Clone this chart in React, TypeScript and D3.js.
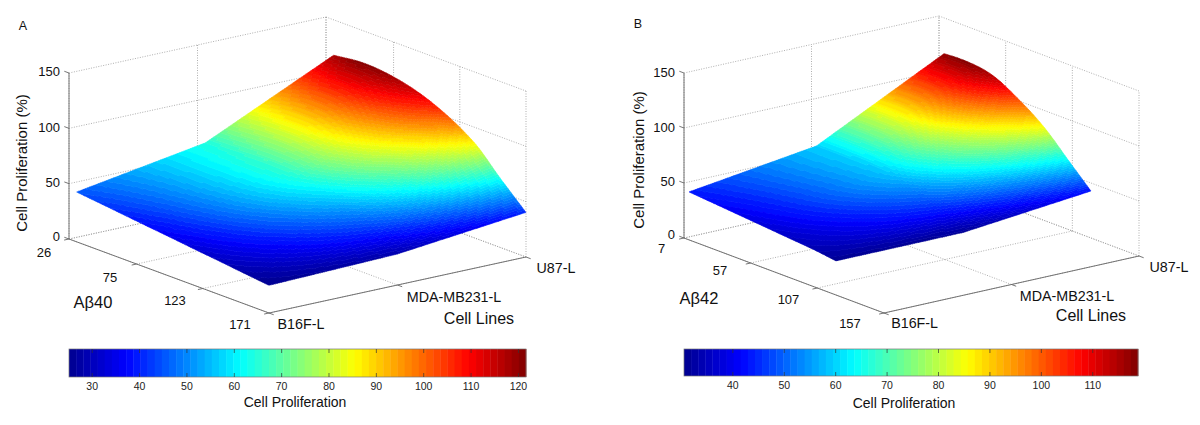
import * as d3 from "d3";

const cellLines = ["B16F-L", "MDA-MB231-L", "U87-L"];
const zTicks = [0, 50, 100, 150];

// panel A
const ab40Ticks = [26, 75, 123, 171];
const ab40Doses = [31.5, 53, 75, 104, 123, 135.5, 152, 171];
const b16fA = [45, 42, 38.8, 34.7, 31.9, 30.2, 27.7, 25];
const mdaA = [64, 65, 66, 63.5, 57, 51, 42, 28];
const u87A = [118, 121, 118.5, 107.5, 95, 84, 63, 40.3];
const barTicksA = [30, 40, 50, 60, 70, 80, 90, 100, 110, 120];
const barRangeA = [25.1, 121.6];

// panel B
const ab42Ticks = [7, 57, 107, 157];
const ab42Doses = [10.75, 23.5, 49, 66, 86.5, 105, 121];
const b16fB = [43.6, 42.3, 39.6, 37.8, 35.6, 33.6, 31];
const mdaB = [59.5, 59.5, 59, 58, 52, 43, 31];
const u87B = [117.5, 118.3, 113.5, 102, 84, 61.8, 42.7];
const barTicksB = [40, 50, 60, 70, 80, 90, 100, 110];
const barRangeB = [30.5, 118.8];

const FONT = "'Liberation Sans', Arial, sans-serif";
const LEVELS = 64;
const MESH = 120;

// matlab jet
const jet = d3
  .scaleLinear<string>()
  .domain([0, 0.125, 0.375, 0.625, 0.875, 1])
  .range(["#00008f", "#0000ff", "#00ffff", "#ffff00", "#ff0000", "#800000"]);

// smooth curve through the read values along the dose axis
function hermite(xs: number[], ys: number[], x: number) {
  let i = d3.bisectRight(xs, x) - 1;
  i = Math.max(0, Math.min(xs.length - 2, i));
  const secant = (k: number) => (ys[k + 1] - ys[k]) / (xs[k + 1] - xs[k]);
  const slope = (k: number) => {
    if (k === 0) return secant(0);
    if (k === xs.length - 1) return secant(k - 1);
    const h0 = xs[k] - xs[k - 1];
    const h1 = xs[k + 1] - xs[k];
    return (h1 * secant(k - 1) + h0 * secant(k)) / (h0 + h1);
  };
  const h = xs[i + 1] - xs[i];
  const t = (x - xs[i]) / h;
  const t2 = t * t;
  const t3 = t2 * t;
  return (
    (2 * t3 - 3 * t2 + 1) * ys[i] +
    (t3 - 2 * t2 + t) * h * slope(i) +
    (-2 * t3 + 3 * t2) * ys[i + 1] +
    (t3 - t2) * h * slope(i + 1)
  );
}

function Panel(props: any) {
  const { id, letter, letterAt, abTicks, doses, rows, barTicks, barRange, abName } = props;
  const { left, front, right, zPx, bar, text } = props.layout;

  const uScale = d3.scaleLinear().domain([abTicks[0], abTicks[3]]).range([0, 1]);
  const vScale = d3.scalePoint<string>().domain(cellLines).range([0, 1]);
  const zScale = d3.scaleLinear().domain([0, 150]).range([0, zPx]);

  const uVec = [front[0] - left[0], front[1] - left[1]];
  const vVec = [right[0] - front[0], right[1] - front[1]];
  const project = (u: number, v: number, z: number) => [
    left[0] + u * uVec[0] + v * vVec[0],
    left[1] + u * uVec[1] + v * vVec[1] - zScale(z),
  ];
  const seg = (a: number[], b: number[]) => `M${a[0]},${a[1]}L${b[0]},${b[1]}`;

  const uTicks = abTicks.map((d: number) => uScale(d));
  const vTicks = cellLines.map((d) => vScale(d) as number);

  // dotted grid on the floor and the two back walls
  const grid: string[] = [];
  zTicks.forEach((z) => {
    grid.push(seg(project(0, 0, z), project(0, 1, z)));
    grid.push(seg(project(0, 1, z), project(1, 1, z)));
  });
  vTicks.forEach((v) => {
    grid.push(seg(project(0, v, 0), project(0, v, 150)));
    grid.push(seg(project(0, v, 0), project(1, v, 0)));
  });
  uTicks.forEach((u: number) => {
    grid.push(seg(project(u, 1, 0), project(u, 1, 150)));
    grid.push(seg(project(u, 0, 0), project(u, 1, 0)));
  });

  const colorT = d3.scaleLinear().domain(barRange).range([0, 1]);

  const height = (dose: number, v: number) => {
    const a = hermite(doses, rows[0], dose);
    const b = hermite(doses, rows[1], dose);
    const c = hermite(doses, rows[2], dose);
    return v < 0.5 ? a + (b - a) * (v / 0.5) : b + (c - b) * ((v - 0.5) / 0.5);
  };

  // the surface never folds over itself from this view, so cells can be grouped by colour level
  const doseSteps = d3.range(MESH + 1).map((i) => doses[0] + ((doses[doses.length - 1] - doses[0]) * i) / MESH);
  const vSteps = d3.range(MESH + 1).map((i) => i / MESH);
  const heights = doseSteps.map((d) => vSteps.map((v) => height(d, v)));
  const levelPaths: string[] = d3.range(LEVELS).map(() => "");
  for (let i = 0; i < MESH; i++) {
    for (let j = 0; j < MESH; j++) {
      const corners = [
        [i, j],
        [i + 1, j],
        [i + 1, j + 1],
        [i, j + 1],
      ];
      const zs = corners.map((c) => heights[c[0]][c[1]]);
      const pts = corners.map((c, k) => project(uScale(doseSteps[c[0]]), vSteps[c[1]], zs[k]));
      const t = colorT(d3.mean(zs) as number);
      const level = Math.min(LEVELS - 1, Math.max(0, Math.floor(t * LEVELS)));
      levelPaths[level] += "M" + pts.map((p) => `${p[0].toFixed(1)},${p[1].toFixed(1)}`).join("L") + "Z";
    }
  }

  // colorbar
  const barX = d3.scaleLinear().domain(barRange).range([bar.x0, bar.x1]);
  const bandW = (bar.x1 - bar.x0) / LEVELS;

  const stub = (p: number[], dir: number[]) => {
    const len = Math.hypot(dir[0], dir[1]);
    return seg(p, [p[0] + (dir[0] / len) * 5, p[1] + (dir[1] / len) * 5]);
  };

  return (
    <g fontFamily={FONT} fill="#111">
      <defs>
        <filter id={`soft${id}`} x="-5%" y="-5%" width="110%" height="110%">
          <feGaussianBlur stdDeviation={0.5} />
        </filter>
      </defs>

      <text x={letterAt[0]} y={letterAt[1]} fontSize={12.5} textAnchor="middle">{letter}</text>

      <path d={grid.join("")} stroke="#9a9a9a" strokeWidth={0.8} strokeDasharray="1 1.5" fill="none" />

      <g filter={`url(#soft${id})`}>
        {levelPaths.map((d, i) =>
          d ? (
            <path key={i} d={d} fill={jet((i + 0.5) / LEVELS)} stroke={jet((i + 0.5) / LEVELS)} strokeWidth={0.5} />
          ) : null
        )}
      </g>

      {/* axes */}
      <path
        d={
          seg(project(0, 0, 0), project(0, 0, 150)) +
          seg(project(0, 0, 0), project(1, 0, 0)) +
          seg(project(1, 0, 0), project(1, 1, 0)) +
          zTicks.map((z) => stub(project(0, 0, z), [-uVec[0], -uVec[1]])).join("") +
          uTicks.map((u: number) => stub(project(u, 0, 0), [-vVec[0], -vVec[1]])).join("") +
          vTicks.map((v) => stub(project(1, v, 0), uVec)).join("")
        }
        stroke="#666"
        strokeWidth={0.9}
        fill="none"
      />

      {zTicks.map((z, i) => (
        <text key={z} x={text.zRight} y={text.zY[i] + 4.5} fontSize={13} textAnchor="end">{z}</text>
      ))}
      {abTicks.map((d: number, i: number) => (
        <text key={d} x={text.ab[i][0]} y={text.ab[i][1] + 4.5} fontSize={13} textAnchor="middle">{d}</text>
      ))}
      {cellLines.map((d, i) => (
        <text key={d} x={text.cell[i][0]} y={text.cell[i][1] + 4.5} fontSize={14.3} textAnchor="middle">{d}</text>
      ))}
      <text
        transform={`translate(${text.zLabel[0]},${text.zLabel[1]}) rotate(-90)`}
        fontSize={15}
        textAnchor="middle"
        dy="0.35em"
      >
        Cell Proliferation (%)
      </text>
      <text x={text.abLabel[0]} y={text.abLabel[1] + 6} fontSize={16.5} textAnchor="middle">{abName}</text>
      <text x={text.cellLabel[0]} y={text.cellLabel[1] + 5.5} fontSize={16} textAnchor="middle">Cell Lines</text>

      {/* colorbar */}
      {d3.range(LEVELS).map((i) => (
        <rect
          key={i}
          x={bar.x0 + i * bandW}
          y={bar.y0}
          width={bandW + 0.4}
          height={bar.y1 - bar.y0}
          fill={jet((i + 0.5) / LEVELS)}
        />
      ))}
      <rect x={bar.x0} y={bar.y0} width={bar.x1 - bar.x0} height={bar.y1 - bar.y0} fill="none" stroke="#777" strokeWidth={0.7} />
      {barTicks.map((t: number) => (
        <g key={t}>
          <line x1={barX(t)} x2={barX(t)} y1={bar.y0} y2={bar.y0 + 4} stroke="#333" strokeWidth={0.7} />
          <line x1={barX(t)} x2={barX(t)} y1={bar.y1} y2={bar.y1 - 4} stroke="#333" strokeWidth={0.7} />
          <text x={barX(t)} y={bar.y1 + 13} fontSize={10.5} textAnchor="middle" fill="#222">{t}</text>
        </g>
      ))}
      <text x={bar.labelX} y={bar.labelY + 4.5} fontSize={14} textAnchor="middle">Cell Proliferation</text>
    </g>
  );
}

const layoutA = {
  left: [69, 239],
  front: [269, 313],
  right: [526, 257],
  zPx: 166,
  bar: { x0: 69, x1: 526, y0: 349, y1: 377, labelX: 295, labelY: 402 },
  text: {
    zRight: 60,
    zY: [236, 182, 127, 71],
    ab: [[44, 252], [110, 277], [175, 300], [240, 324]],
    cell: [[301, 324], [454, 297], [556, 268]],
    zLabel: [22, 163],
    abLabel: [93, 302],
    cellLabel: [479, 318],
  },
};

const layoutB = {
  left: [684, 238],
  front: [884, 313],
  right: [1139, 256],
  zPx: 165,
  bar: { x0: 684, x1: 1138, y0: 349, y1: 376, labelX: 904, labelY: 403 },
  text: {
    zRight: 675,
    zY: [234, 181, 127, 72],
    ab: [[661.5, 248], [720, 270], [788.5, 299], [850, 323]],
    cell: [[914.6, 323], [1067, 296], [1169, 267]],
    zLabel: [638.5, 160],
    abLabel: [699, 298],
    cellLabel: [1091, 315],
  },
};

export default function App() {
  return (
    <svg
      width={1200}
      height={425}
      viewBox="0 0 1200 425"
      style={{ position: "absolute", left: 0, top: 0, display: "block", background: "#fff" }}
    >
      <Panel
        id="A"
        letter="A"
        letterAt={[23, 30]}
        abName="Aβ40"
        abTicks={ab40Ticks}
        doses={ab40Doses}
        rows={[b16fA, mdaA, u87A]}
        barTicks={barTicksA}
        barRange={barRangeA}
        layout={layoutA}
      />
      <Panel
        id="B"
        letter="B"
        letterAt={[638, 28]}
        abName="Aβ42"
        abTicks={ab42Ticks}
        doses={ab42Doses}
        rows={[b16fB, mdaB, u87B]}
        barTicks={barTicksB}
        barRange={barRangeB}
        layout={layoutB}
      />
    </svg>
  );
}
